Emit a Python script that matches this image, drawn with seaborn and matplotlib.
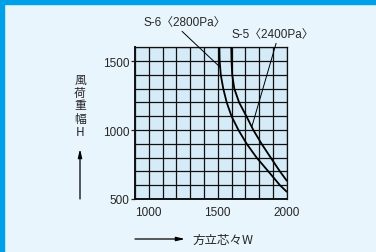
import pandas as pd
import seaborn as sns
import matplotlib.pyplot as plt
from matplotlib.patches import Rectangle


# DATA
s6_w = [1512, 1514, 1522, 1540, 1565, 1600, 1650, 1710, 1782, 1867, 1951, 2000]
s6_h = [1600, 1500, 1400, 1300, 1200, 1100, 1000, 900, 800, 700, 600, 553]
s5_w = [1598, 1600, 1605, 1620, 1655, 1708, 1758, 1818, 1884, 1951, 2000]
s5_h = [1600, 1500, 1400, 1300, 1200, 1100, 1000, 900, 800, 700, 633]
s6_label = 'S-6〈2800Pa〉'
s5_label = 'S-5〈2400Pa〉'
x_ticks = [1000, 1500, 2000]
y_ticks = [500, 1000, 1500]
x_title = '方立芯々W'
y_title = '風\n荷\n重\n幅\nH'


df = pd.concat([
    pd.DataFrame({'W': s6_w, 'H': s6_h, 'series': 'S-6'}),
    pd.DataFrame({'W': s5_w, 'H': s5_h, 'series': 'S-5'}),
])

sns.set_style('white')
plt.rcParams['font.family'] = ['Liberation Sans Narrow', 'Liberation Sans', 'Noto Sans CJK JP']

BG = '#e9f5fc'
PLOT_BG = '#d5ebf8'
FRAME = '#00a0e9'

fig = plt.figure(figsize=(3.76, 2.53), dpi=100, facecolor=BG)
ax = fig.add_axes([135 / 376, 1 - 200 / 253, 151.7 / 376, 151.7 / 253])
ax.set_facecolor(PLOT_BG)

# blue frame on top and left
fig.patches.append(Rectangle((0, 1 - 5 / 253), 1, 5 / 253, transform=fig.transFigure, color=FRAME, zorder=0))
fig.patches.append(Rectangle((0, 0), 4 / 376, 1, transform=fig.transFigure, color=FRAME, zorder=0))

sns.lineplot(data=df, x='W', y='H', units='series', estimator=None, sort=False,
             color='black', linewidth=1.3, ax=ax, legend=False, zorder=3)

ax.set_xlim(900, 2000)
ax.set_ylim(500, 1600)
ax.set_xticks(x_ticks)
ax.set_yticks(y_ticks)
ax.set_xticks(range(900, 2001, 100), minor=True)
ax.set_yticks(range(500, 1601, 100), minor=True)
ax.grid(True, which='both', color='#111111', linewidth=0.9)
ax.tick_params(axis='x', which='both', length=0, pad=5, labelsize=8.5)
ax.tick_params(axis='y', which='major', length=3, width=0.9, pad=1, labelsize=8.5, left=True)
ax.tick_params(axis='y', which='minor', length=0)
ax.set_xlabel('')
ax.set_ylabel('')
for side in ax.spines.values():
    side.set_color('#111111')
    side.set_linewidth(0.9)
ax.spines['left'].set_linewidth(1.4)
ax.spines['bottom'].set_linewidth(1.4)

# series labels with leader lines
ax.annotate(s6_label, xy=(1518, 1455), xytext=(965, 1783), textcoords='data',
            fontsize=8.5, va='center', ha='left', annotation_clip=False,
            arrowprops=dict(arrowstyle='-', color='black', linewidth=0.7,
                            shrinkA=0, shrinkB=0, relpos=(0.42, 0)))
ax.annotate(s5_label, xy=(1746, 1020), xytext=(1601, 1696), textcoords='data',
            fontsize=8.5, va='center', ha='left', annotation_clip=False,
            arrowprops=dict(arrowstyle='-', color='black', linewidth=0.7,
                            shrinkA=0, shrinkB=0, relpos=(0.55, 0)))

# axis titles with arrows
fig.text(80 / 376, 1 - 106 / 253, y_title, fontsize=8.5, ha='center', va='center',
         linespacing=1.0, family=['Noto Sans CJK JP', 'DejaVu Sans'])
fig.text(192 / 376, 1 - 240 / 253, x_title, fontsize=9, ha='left', va='center',
         family=['Noto Sans CJK JP', 'DejaVu Sans'])
fig.add_artist(plt.Annotation('', xy=(185 / 376, 1 - 240 / 253), xytext=(135 / 376, 1 - 240 / 253),
                              xycoords='figure fraction', textcoords='figure fraction',
                              arrowprops=dict(arrowstyle='-|>,head_length=0.5,head_width=0.12',
                                              color='black', linewidth=0.9, shrinkA=0, shrinkB=0)))
fig.add_artist(plt.Annotation('', xy=(80 / 376, 1 - 150 / 253), xytext=(80 / 376, 1 - 200 / 253),
                              xycoords='figure fraction', textcoords='figure fraction',
                              arrowprops=dict(arrowstyle='-|>,head_length=0.5,head_width=0.12',
                                              color='black', linewidth=0.9, shrinkA=0, shrinkB=0)))

plt.savefig('out.png', dpi=100, facecolor=BG)
